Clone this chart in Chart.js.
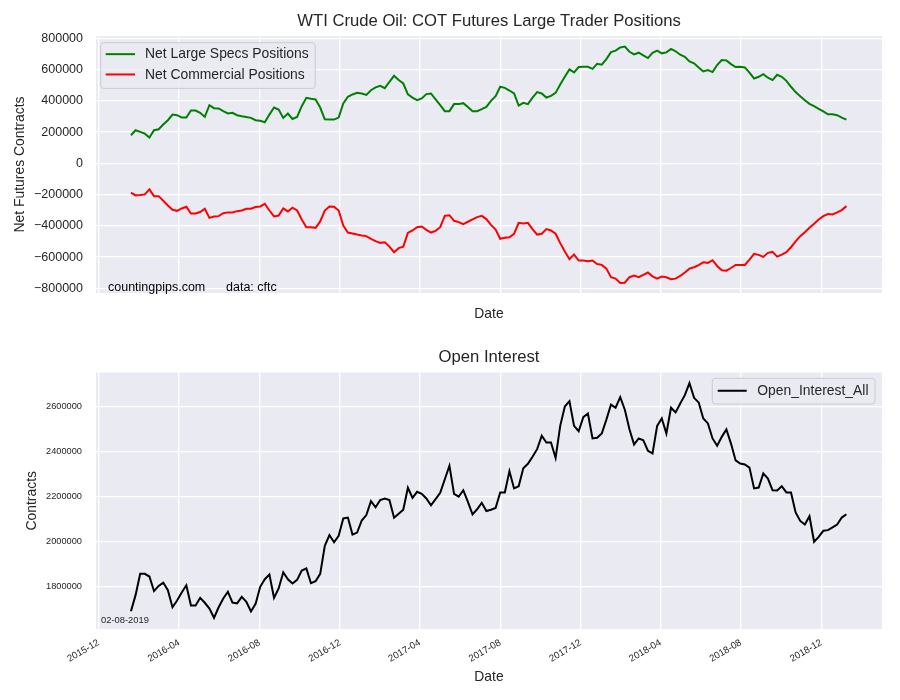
<!DOCTYPE html>
<html>
<head>
<meta charset="utf-8">
<script src="https://cdn.jsdelivr.net/npm/chart.js@4.4.1/dist/chart.umd.min.js"></script>
<style>
html,body{margin:0;padding:0;background:#ffffff;}
#wrap{position:relative;width:900px;height:700px;overflow:hidden;}
canvas{position:absolute;left:0;}
#c1{top:0;}
#c2{top:340px;}
</style>
</head>
<body>
<div id="wrap">
<canvas id="c1" width="900" height="340"></canvas>
<canvas id="c2" width="900" height="360"></canvas>
</div>
<script>
// ---------------- DATA ----------------
const chartTitle = 'WTI Crude Oil: COT Futures Large Trader Positions';
const oiTitle = 'Open Interest';
const firstReportDate = '2016-01-19';   // weekly COT reports (Tuesdays)
const xAxisStart = '2015-11-27';
const xAxisEnd = '2019-03-03';
const xTickLabels = ['2015-12','2016-04','2016-08','2016-12','2017-04','2017-08','2017-12','2018-04','2018-08','2018-12'];
const positionTicks = [-800000,-600000,-400000,-200000,0,200000,400000,600000,800000];
const oiTicks = [1800000,2000000,2200000,2400000,2600000];

const netLargeSpecs = [
 180000,212000,201000,190000,165000,212000,218000,248000,276000,312000,
 308000,293000,293000,338000,338000,323000,297000,372000,353000,351000,
 334000,319000,323000,308000,302000,297000,291000,276000,272000,263000,
 312000,357000,344000,291000,319000,284000,297000,366000,419000,413000,
 409000,357000,282000,280000,280000,293000,383000,426000,441000,451000,
 447000,438000,468000,486000,496000,
 481000,522000,560000,533000,511000,441000,421000,404000,415000,443000,
 447000,409000,372000,334000,334000,379000,379000,385000,361000,334000,
 334000,347000,361000,400000,430000,490000,483000,466000,447000,370000,
 387000,379000,421000,456000,447000,421000,432000,451000,505000,554000,
 601000,582000,616000,618000,618000,605000,637000,631000,667000,712000,
 721000,742000,747000,714000,
 697000,708000,691000,674000,708000,721000,704000,710000,732000,717000,
 695000,682000,652000,640000,614000,588000,597000,584000,629000,661000,
 659000,635000,616000,618000,614000,580000,543000,554000,571000,548000,
 533000,567000,554000,528000,490000,456000,430000,404000,381000,366000,
 349000,332000,314000,314000,308000,293000,280000
];
const netCommercial = [
 -188000,-205000,-203000,-199000,-167000,-210000,-210000,-240000,-270000,-297000,
 -304000,-289000,-278000,-321000,-321000,-312000,-291000,-349000,-340000,-338000,
 -319000,-314000,-314000,-306000,-302000,-291000,-291000,-280000,-276000,-259000,
 -302000,-340000,-334000,-289000,-308000,-284000,-302000,-359000,-409000,-409000,
 -413000,-372000,-302000,-276000,-278000,-302000,-398000,-443000,-449000,-456000,
 -462000,-466000,-483000,-498000,-509000,
 -505000,-533000,-569000,-543000,-533000,-445000,-430000,-409000,-404000,-426000,
 -443000,-432000,-409000,-336000,-332000,-368000,-376000,-389000,-374000,-359000,
 -344000,-336000,-357000,-394000,-424000,-483000,-477000,-473000,-451000,-381000,
 -385000,-381000,-421000,-456000,-451000,-421000,-430000,-451000,-511000,-565000,
 -614000,-584000,-622000,-622000,-627000,-622000,-644000,-650000,-674000,-729000,
 -738000,-766000,-764000,-729000,
 -719000,-729000,-714000,-699000,-723000,-738000,-725000,-729000,-742000,-738000,
 -721000,-699000,-674000,-665000,-652000,-633000,-637000,-620000,-657000,-684000,
 -687000,-670000,-650000,-650000,-650000,-616000,-580000,-586000,-599000,-573000,
 -567000,-597000,-584000,-569000,-537000,-500000,-466000,-441000,-413000,-387000,
 -359000,-338000,-325000,-327000,-314000,-299000,-274000
];
const openInterestAll = [
 1688000,1760000,1855000,1855000,1843000,1778000,1801000,1816000,1782000,1706000,
 1736000,1772000,1804000,1714000,1714000,1748000,1726000,1700000,1659000,1706000,
 1745000,1775000,1727000,1723000,1752000,1730000,1687000,1721000,1797000,1831000,
 1852000,1748000,1790000,1862000,1831000,1812000,1828000,1870000,1879000,1813000,
 1822000,1855000,1980000,2028000,1996000,2025000,2102000,2106000,2030000,2039000,
 2093000,2117000,2179000,2152000,2184000,
 2191000,2184000,2105000,2123000,2141000,2239000,2194000,2221000,2212000,2191000,
 2161000,2188000,2216000,2277000,2337000,2212000,2199000,2228000,2176000,2120000,
 2143000,2172000,2135000,2141000,2149000,2218000,2218000,2313000,2236000,2246000,
 2326000,2346000,2377000,2411000,2471000,2441000,2441000,2372000,2515000,2601000,
 2625000,2515000,2491000,2554000,2570000,2459000,2462000,2481000,2543000,2610000,
 2596000,2643000,2587000,2500000,
 2432000,2459000,2451000,2404000,2392000,2515000,2548000,2481000,2596000,2575000,
 2615000,2652000,2706000,2640000,2619000,2548000,2526000,2459000,2426000,2466000,
 2499000,2436000,2361000,2347000,2343000,2329000,2236000,2240000,2303000,2280000,
 2228000,2227000,2246000,2218000,2218000,2129000,2091000,2075000,2112000,1998000,
 2020000,2047000,2050000,2062000,2075000,2106000,2121000
];

// ---------------- HELPERS ----------------
const FONT = "'Liberation Sans', Arial, Helvetica, sans-serif";
const TXT = '#262626';
function dayNum(s){ const p = s.split('-').map(Number); return Date.UTC(p[0], p[1]-1, p[2] || 1) / 864e5; }
const reportDays = netLargeSpecs.map((_, i) => dayNum(firstReportDate) + 7 * i);
const xTickValues = xTickLabels.map(dayNum);
const pts = arr => arr.map((v, i) => ({x: reportDays[i], y: v}));

Chart.defaults.font.family = FONT;
Chart.defaults.color = TXT;

const bgPlugin = {
  id: 'bgPlugin',
  beforeDraw(chart) {
    const {ctx, chartArea: a} = chart;
    ctx.save();
    ctx.fillStyle = '#EAEAF2';
    ctx.fillRect(a.left, a.top, a.right - a.left, a.bottom - a.top);
    ctx.restore();
  }
};

const boxLegend = {
  id: 'boxLegend',
  afterDatasetsDraw(chart, args, o) {
    const ctx = chart.ctx, a = chart.chartArea;
    const items = chart.data.datasets;
    ctx.save();
    ctx.font = o.fontSize + 'px ' + FONT;
    const tw = Math.max(...items.map(d => ctx.measureText(d.label).width));
    const w = o.padL + o.lineLen + o.gap + tw + o.padR;
    const h = o.padT + o.padB + o.rowH * items.length;
    const left = o.align === 'left' ? a.left + o.dx : a.right - o.dx - w;
    const top = a.top + o.dy;
    const r = 3;
    ctx.beginPath();
    ctx.moveTo(left + r, top);
    ctx.lineTo(left + w - r, top); ctx.arcTo(left + w, top, left + w, top + r, r);
    ctx.lineTo(left + w, top + h - r); ctx.arcTo(left + w, top + h, left + w - r, top + h, r);
    ctx.lineTo(left + r, top + h); ctx.arcTo(left, top + h, left, top + h - r, r);
    ctx.lineTo(left, top + r); ctx.arcTo(left, top, left + r, top, r);
    ctx.closePath();
    ctx.fillStyle = 'rgba(234,234,242,0.8)';
    ctx.fill();
    ctx.strokeStyle = '#cccccc';
    ctx.lineWidth = 1;
    ctx.stroke();
    items.forEach((d, i) => {
      const cy = top + o.padT + o.rowH * (i + 0.5);
      ctx.beginPath();
      ctx.moveTo(left + o.padL, cy);
      ctx.lineTo(left + o.padL + o.lineLen, cy);
      ctx.strokeStyle = d.borderColor;
      ctx.lineWidth = 2;
      ctx.stroke();
      ctx.fillStyle = TXT;
      ctx.textBaseline = 'middle';
      ctx.textAlign = 'left';
      ctx.fillText(d.label, left + o.padL + o.lineLen + o.gap, cy + 0.5);
    });
    ctx.restore();
  }
};

const notes = {
  id: 'notes',
  afterDraw(chart, args, o) {
    const ctx = chart.ctx;
    ctx.save();
    (o.items || []).forEach(it => {
      ctx.font = it.size + 'px ' + FONT;
      ctx.fillStyle = it.color || '#000';
      ctx.textBaseline = 'middle';
      ctx.textAlign = 'left';
      ctx.fillText(it.text, it.x, it.y);
    });
    ctx.restore();
  }
};

function xScale(showLabels, height, titlePadBottom) {
  return {
    type: 'linear',
    min: dayNum(xAxisStart),
    max: dayNum(xAxisEnd),
    afterBuildTicks: s => { s.ticks = xTickValues.map(v => ({value: v})); },
    afterFit: s => { s.height = height; },
    grid: {color: '#ffffff', lineWidth: 1.3, drawTicks: false},
    border: {display: false},
    ticks: {
      display: showLabels,
      autoSkip: false,
      minRotation: 30, maxRotation: 30,
      padding: 8,
      font: {size: 9.6},
      color: TXT,
      callback: v => xTickLabels[xTickValues.indexOf(v)]
    },
    title: {display: true, text: 'Date', font: {size: 13.9}, color: TXT, padding: {top: 0, bottom: titlePadBottom}}
  };
}

function yScale(min, max, tickVals, fontSize, pad, title, titlePadTop, fmt) {
  return {
    type: 'linear',
    min: min, max: max,
    afterBuildTicks: s => { s.ticks = tickVals.map(v => ({value: v})); },
    afterFit: s => { s.width = 96; },
    grid: {color: '#ffffff', lineWidth: 1.3, drawTicks: false},
    border: {display: false},
    ticks: {font: {size: fontSize}, padding: pad, color: TXT, callback: fmt},
    title: {display: true, text: title, font: {size: 13.9}, color: TXT, padding: {top: titlePadTop, bottom: 0}}
  };
}

const lineDs = (label, arr, color) => ({
  label: label, data: pts(arr), borderColor: color, backgroundColor: color,
  borderWidth: 2, pointRadius: 0, tension: 0, fill: false
});

// ---------------- TOP CHART ----------------
new Chart(document.getElementById('c1'), {
  type: 'line',
  data: {datasets: [
    lineDs('Net Large Specs Positions', netLargeSpecs, '#008000'),
    lineDs('Net Commercial Positions', netCommercial, '#ff0000')
  ]},
  options: {
    responsive: false, animation: false, devicePixelRatio: 1,
    layout: {padding: {left: 0, right: 18, top: 0, bottom: 0}},
    scales: {
      x: xScale(false, 47, 17.6),
      y: yScale(-830000, 815000, positionTicks, 12.5, 13, 'Net Futures Contracts', 11.6,
                v => (v < 0 ? '\u2212' : '') + Math.abs(v))
    },
    plugins: {
      legend: {display: false},
      tooltip: {enabled: false},
      title: {display: true, fullSize: false, text: chartTitle, font: {size: 16.67, weight: 'normal'}, color: TXT, padding: {top: 11, bottom: 5}},
      boxLegend: {align: 'left', dx: 4.7, dy: 6.7, fontSize: 13.9, padL: 5, lineLen: 29.3, gap: 10, padR: 6.5, padT: 1.3, padB: 3.8, rowH: 20.3},
      notes: {items: [
        {text: 'countingpips.com', x: 108, y: 288, size: 12.5, color: '#000'},
        {text: 'data: cftc', x: 226, y: 288, size: 12.5, color: '#000'}
      ]}
    }
  },
  plugins: [bgPlugin, boxLegend, notes]
});

// ---------------- BOTTOM CHART ----------------
new Chart(document.getElementById('c2'), {
  type: 'line',
  data: {datasets: [
    lineDs('Open_Interest_All', openInterestAll, '#000000')
  ]},
  options: {
    responsive: false, animation: false, devicePixelRatio: 1,
    layout: {padding: {left: 0, right: 18, top: 0, bottom: 0}},
    scales: {
      x: xScale(true, 71, 14.7),
      y: yScale(1609000, 2753000, oiTicks, 9.25, 14, 'Contracts', 23.6, v => String(v))
    },
    plugins: {
      legend: {display: false},
      tooltip: {enabled: false},
      title: {display: true, fullSize: false, text: oiTitle, font: {size: 16.67, weight: 'normal'}, color: TXT, padding: {top: 7, bottom: 5.5}},
      boxLegend: {align: 'right', dx: 7, dy: 5.8, fontSize: 13.9, padL: 5.4, lineLen: 29, gap: 10.6, padR: 6.5, padT: 2.3, padB: 3.1, rowH: 20.3},
      notes: {items: [
        {text: '02-08-2019', x: 101, y: 280.7, size: 9.4, color: TXT}
      ]}
    }
  },
  plugins: [bgPlugin, boxLegend, notes]
});
</script>
</body>
</html>
